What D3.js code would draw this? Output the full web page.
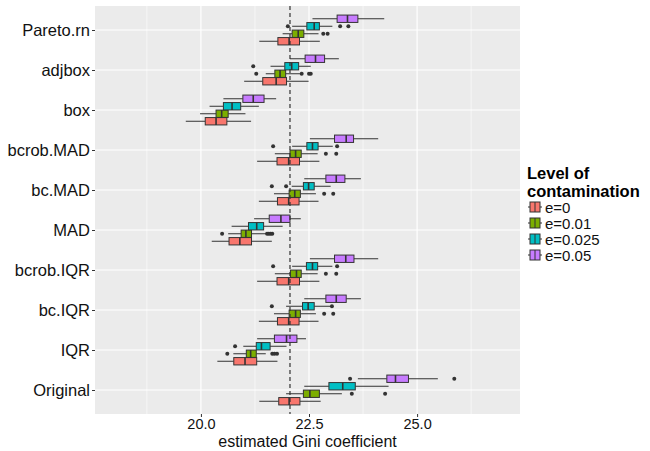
<!DOCTYPE html>
<html><head><meta charset="utf-8">
<script src="https://cdn.jsdelivr.net/npm/d3@7"></script>
<style>body{margin:0;background:#fff}text{font-family:"Liberation Sans",Arial,sans-serif}</style>
</head><body><svg id="chart" width="650" height="451"></svg>
<script>
// methods top to bottom
const methods = ["Pareto.rn", "adjbox", "box", "bcrob.MAD", "bc.MAD", "MAD", "bcrob.IQR", "bc.IQR", "IQR", "Original"]
const levels = ["e=0", "e=0.01", "e=0.025", "e=0.05"]
const colors = ["#F8766D", "#7CAE00", "#00BFC4", "#C77CFF"]
const xTicks = [20.0, 22.5, 25.0]
const refLine = 22.06

// [low whisker, q1, median, q3, high whisker] per level (e=0, e=0.01, e=0.025, e=0.05)
const stats = {
  "Pareto.rn": [[21.35, 21.78, 22.04, 22.28, 22.75], [21.89, 22.11, 22.25, 22.38, 22.72], [22.11, 22.45, 22.62, 22.74, 23.04], [22.58, 23.15, 23.39, 23.63, 24.24]],
  "adjbox": [[21.0, 21.43, 21.74, 21.98, 22.49], [21.5, 21.71, 21.83, 21.96, 22.29], [21.61, 21.94, 22.1, 22.26, 22.54], [22.06, 22.41, 22.65, 22.86, 23.19]],
  "box": [[19.65, 20.1, 20.35, 20.6, 21.16], [19.98, 20.35, 20.48, 20.63, 21.03], [20.2, 20.52, 20.72, 20.92, 21.34], [20.52, 20.97, 21.21, 21.46, 21.74]],
  "bcrob.MAD": [[21.3, 21.76, 22.03, 22.28, 22.74], [21.71, 22.06, 22.19, 22.32, 22.7], [22.11, 22.45, 22.58, 22.71, 23.05], [22.52, 23.09, 23.36, 23.53, 24.1]],
  "bc.MAD": [[21.34, 21.77, 22.03, 22.27, 22.72], [21.69, 22.04, 22.17, 22.3, 22.66], [22.1, 22.37, 22.49, 22.62, 23.0], [22.39, 22.89, 23.13, 23.33, 23.7]],
  "MAD": [[20.25, 20.65, 20.9, 21.17, 21.64], [20.63, 20.93, 21.04, 21.17, 21.52], [20.71, 21.1, 21.29, 21.45, 21.89], [21.23, 21.58, 21.85, 22.06, 22.31]],
  "bcrob.IQR": [[21.3, 21.76, 22.03, 22.28, 22.74], [21.71, 22.07, 22.21, 22.32, 22.7], [22.11, 22.44, 22.58, 22.7, 23.04], [22.52, 23.09, 23.35, 23.54, 24.1]],
  "bc.IQR": [[21.34, 21.77, 22.03, 22.27, 22.72], [21.69, 22.04, 22.19, 22.3, 22.66], [21.97, 22.35, 22.48, 22.62, 22.99], [22.39, 22.89, 23.13, 23.36, 23.7]],
  "IQR": [[20.38, 20.76, 21.02, 21.29, 21.77], [20.75, 21.05, 21.15, 21.28, 21.5], [20.98, 21.28, 21.4, 21.6, 21.98], [21.3, 21.7, 21.98, 22.22, 22.43]],
  "Original": [[21.35, 21.8, 22.04, 22.29, 22.77], [21.97, 22.37, 22.52, 22.74, 23.26], [22.39, 22.96, 23.28, 23.57, 24.34], [23.63, 24.3, 24.5, 24.8, 25.48]],
}

// outliers [method, level index, value]
const outliers = [
  ["Pareto.rn", 2, 22.01], ["Pareto.rn", 2, 23.22], ["Pareto.rn", 2, 23.41], ["Pareto.rn", 1, 22.83], ["Pareto.rn", 1, 22.93],
  ["adjbox", 2, 21.21], ["adjbox", 1, 21.28], ["adjbox", 1, 22.33], ["adjbox", 1, 22.5], ["adjbox", 1, 22.54],
  ["bcrob.MAD", 2, 21.67], ["bcrob.MAD", 2, 23.15], ["bcrob.MAD", 1, 22.89], ["bcrob.MAD", 1, 23.13],
  ["bc.MAD", 2, 21.64], ["bc.MAD", 2, 21.97], ["bc.MAD", 1, 22.85], ["bc.MAD", 1, 23.06],
  ["MAD", 1, 20.49], ["MAD", 1, 21.53], ["MAD", 1, 21.57], ["MAD", 1, 21.61], ["MAD", 1, 21.65],
  ["bcrob.IQR", 2, 21.67], ["bcrob.IQR", 2, 23.15], ["bcrob.IQR", 1, 22.89], ["bcrob.IQR", 1, 23.13],
  ["bc.IQR", 2, 21.64], ["bc.IQR", 2, 23.03], ["bc.IQR", 1, 22.85], ["bc.IQR", 1, 23.06],
  ["IQR", 2, 20.79], ["IQR", 1, 20.61], ["IQR", 1, 21.65], ["IQR", 1, 21.7], ["IQR", 1, 21.76],
  ["Original", 3, 23.45], ["Original", 3, 25.86], ["Original", 1, 23.49], ["Original", 1, 24.26],
]

const svg = d3.select("#chart")
const panel = { left: 95, right: 520, top: 6, bottom: 414 }

const x = d3.scaleLinear().domain([17.55, 27.38]).range([panel.left, panel.right])
const y = d3.scalePoint().domain(methods).range([panel.top, panel.bottom]).padding(0.6)
const band = y.step() * 0.75
const sub = d3.scaleBand().domain([3, 2, 1, 0]).range([-band / 2, band / 2])

svg.append("rect").attr("x", panel.left).attr("y", panel.top)
  .attr("width", panel.right - panel.left).attr("height", panel.bottom - panel.top).attr("fill", "#EBEBEB")

// minor grid
const minor = [18.75, 21.25, 23.75, 26.25]
svg.selectAll(".minor").data(minor).enter().append("line")
  .attr("x1", (d) => x(d)).attr("x2", (d) => x(d)).attr("y1", panel.top).attr("y2", panel.bottom)
  .attr("stroke", "#fff").attr("stroke-width", 0.6)
svg.selectAll(".gx").data(xTicks).enter().append("line")
  .attr("x1", (d) => x(d)).attr("x2", (d) => x(d)).attr("y1", panel.top).attr("y2", panel.bottom)
  .attr("stroke", "#fff").attr("stroke-width", 1.2)
svg.selectAll(".gy").data(methods).enter().append("line")
  .attr("x1", panel.left).attr("x2", panel.right).attr("y1", (d) => y(d)).attr("y2", (d) => y(d))
  .attr("stroke", "#fff").attr("stroke-width", 1.2)

// boxes
methods.forEach((m) => {
  stats[m].forEach((s, i) => {
    const cy = y(m) + sub(i) + sub.bandwidth() / 2
    const h = sub.bandwidth() * 0.98
    const g = svg.append("g")
    g.append("line").attr("x1", x(s[0])).attr("x2", x(s[1])).attr("y1", cy).attr("y2", cy).attr("stroke", "#333").attr("stroke-width", 1)
    g.append("line").attr("x1", x(s[3])).attr("x2", x(s[4])).attr("y1", cy).attr("y2", cy).attr("stroke", "#333").attr("stroke-width", 1)
    g.append("rect").attr("x", x(s[1])).attr("y", cy - h / 2).attr("width", x(s[3]) - x(s[1])).attr("height", h)
      .attr("fill", colors[i]).attr("stroke", "#333").attr("stroke-width", 1)
    g.append("line").attr("x1", x(s[2])).attr("x2", x(s[2])).attr("y1", cy - h / 2).attr("y2", cy + h / 2)
      .attr("stroke", "#333").attr("stroke-width", 1.6)
  })
})

svg.selectAll(".out").data(outliers).enter().append("circle")
  .attr("cx", (d) => x(d[2])).attr("cy", (d) => y(d[0]) + sub(d[1]) + sub.bandwidth() / 2)
  .attr("r", 2).attr("fill", "#333")

svg.append("line").attr("x1", x(refLine)).attr("x2", x(refLine)).attr("y1", panel.top).attr("y2", panel.bottom)
  .attr("stroke", "#333").attr("stroke-width", 1.2).attr("stroke-dasharray", "4,3")

// axes
const xAxis = svg.append("g").attr("transform", `translate(0,${panel.bottom})`)
  .call(d3.axisBottom(x).tickValues(xTicks).tickFormat(d3.format(".1f")).tickSize(3))
xAxis.select(".domain").remove()
xAxis.selectAll("line").attr("stroke", "#333")
xAxis.selectAll("text").attr("font-size", 14.5).attr("fill", "#111").attr("y", 3).attr("dy", "0.8em")

const yAxis = svg.append("g").attr("transform", `translate(${panel.left},0)`)
  .call(d3.axisLeft(y).tickSize(3))
yAxis.select(".domain").remove()
yAxis.selectAll("line").attr("stroke", "#333")
yAxis.selectAll("text").attr("font-size", 16.5).attr("fill", "#111").attr("x", -5)

svg.append("text").attr("x", (panel.left + panel.right) / 2).attr("y", 447).attr("text-anchor", "middle")
  .attr("font-size", 16).attr("fill", "#111").text("estimated Gini coefficient")

// legend
const legend = svg.append("g").attr("transform", "translate(527,0)")
legend.append("text").attr("x", 0).attr("y", 179).attr("font-size", 16.5).attr("font-weight", "bold").text("Level of")
legend.append("text").attr("x", 0).attr("y", 197).attr("font-size", 16.5).attr("font-weight", "bold").text("contamination")
const items = legend.selectAll(".li").data(levels).enter().append("g")
  .attr("transform", (d, i) => `translate(0,${199 + i * 16})`)
items.append("line").attr("x1", 1).attr("x2", 15).attr("y1", 8).attr("y2", 8).attr("stroke", "#333")
items.append("rect").attr("x", 3).attr("y", 3).attr("width", 10).attr("height", 10)
  .attr("fill", (d, i) => colors[i]).attr("stroke", "#333")
items.append("line").attr("x1", 8).attr("x2", 8).attr("y1", 3).attr("y2", 13).attr("stroke", "#333")
items.append("text").attr("x", 18).attr("y", 14).attr("font-size", 15).attr("fill", "#111").text((d) => d)
</script></body></html>
